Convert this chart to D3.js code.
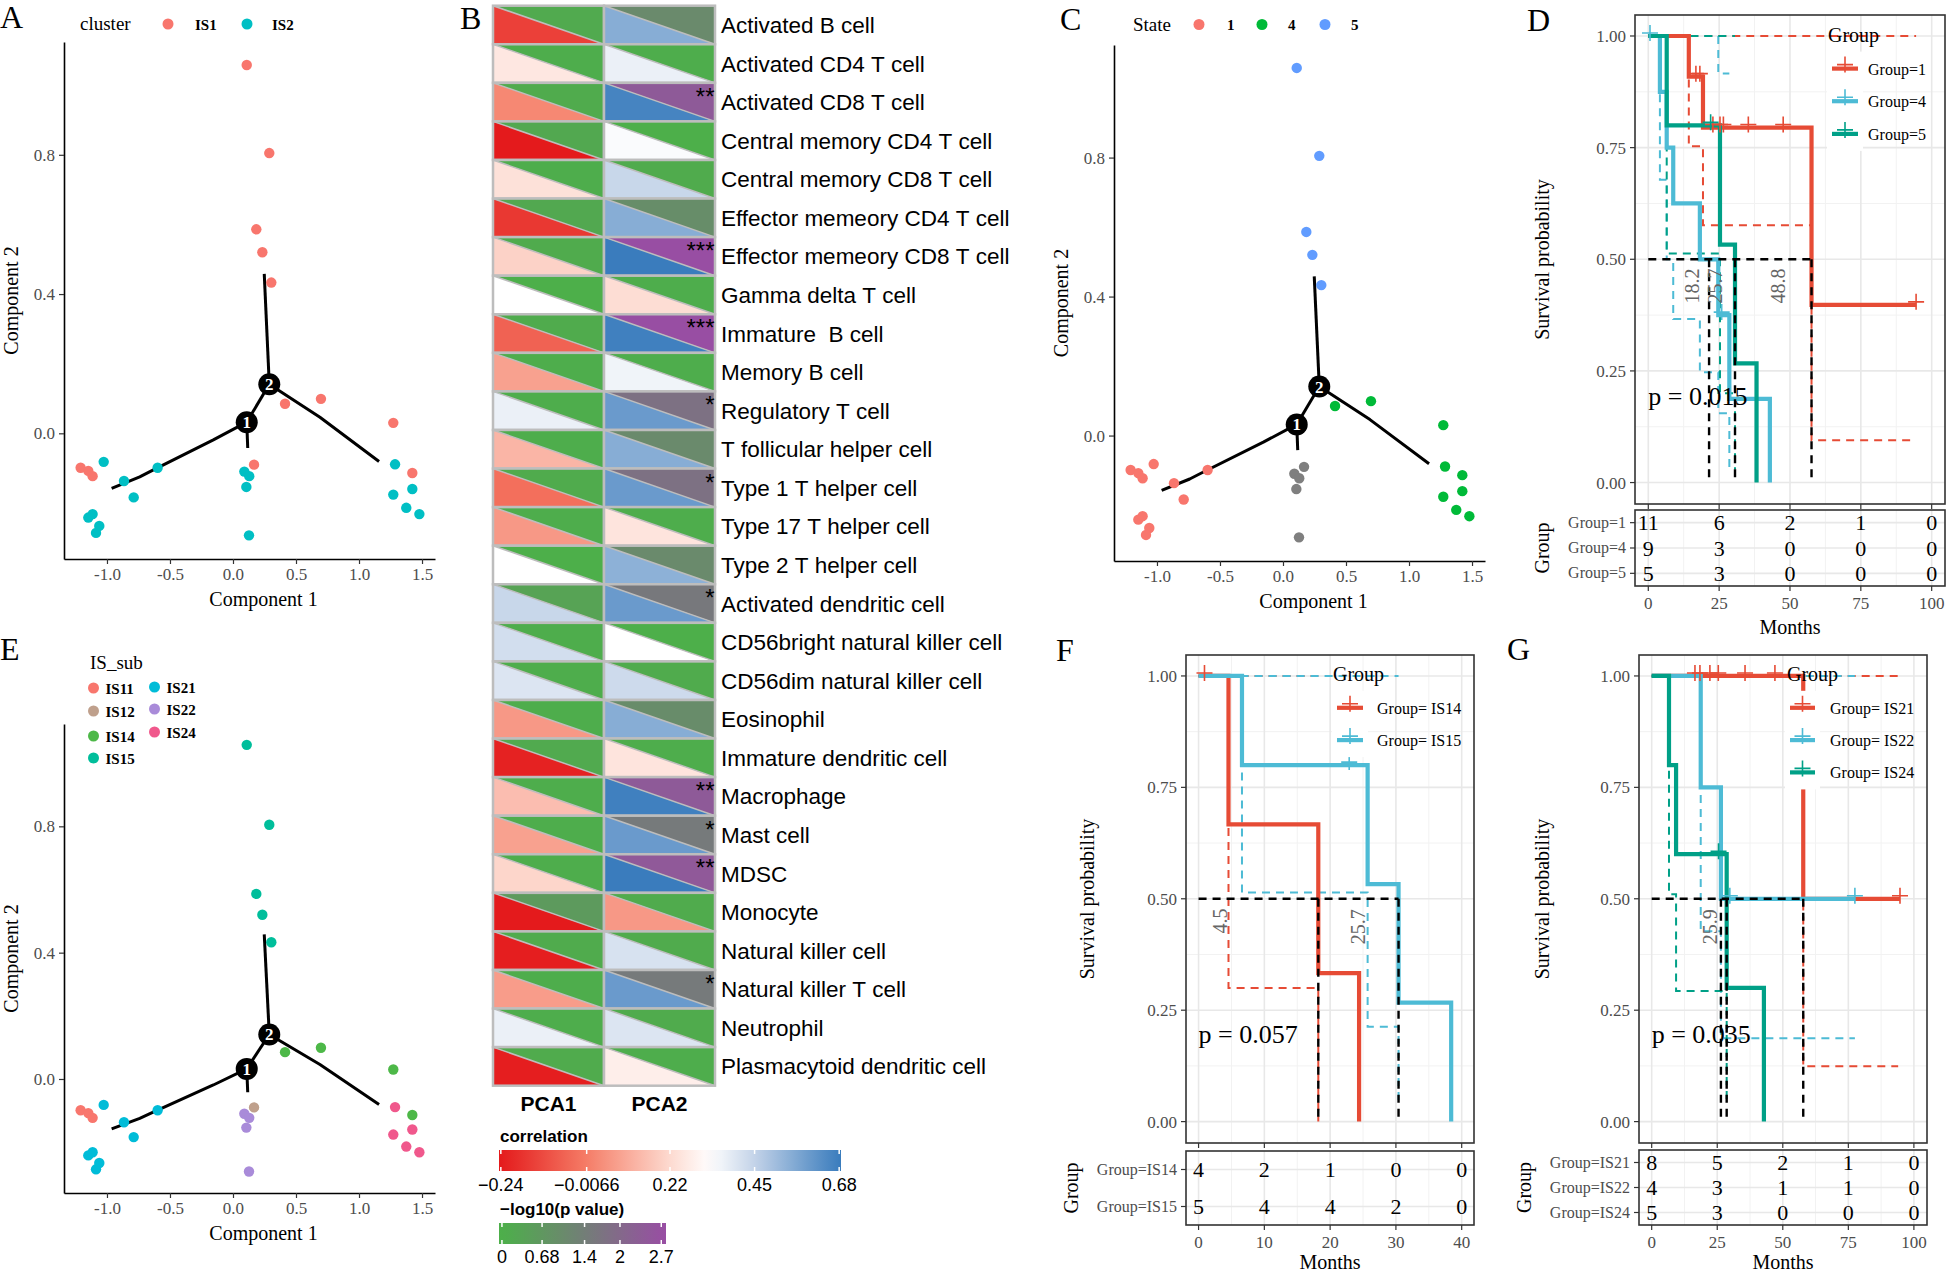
<!DOCTYPE html>
<html><head><meta charset="utf-8">
<script src="https://cdn.jsdelivr.net/npm/d3@7/dist/d3.min.js"></script>
<style>html,body{margin:0;padding:0;background:#fff}svg{display:block}</style>
</head><body>
<svg id="fig" width="1946" height="1273" xmlns="http://www.w3.org/2000/svg"></svg>
<script>
const SERIF = "'Liberation Serif','Times New Roman',Times,serif";
const SANS = "'Liberation Sans',Arial,Helvetica,sans-serif";

// ================= DATA: trajectory cells (panels A, C, E share coordinates) =================
const compX = [0.109,0.288,0.185,0.233,0.304,0.413,0.698,1.272,1.423,0.167,-1.209,-1.148,-1.114,-1.026,-0.865,-0.788,-0.598,-1.148,-1.114,-1.061,-1.087,0.090,0.129,0.106,0.127,1.286,1.423,1.272,1.375,1.479];
const compY = [1.058,0.805,0.586,0.520,0.433,0.085,0.099,0.030,-0.114,-0.090,-0.099,-0.108,-0.123,-0.082,-0.137,-0.184,-0.099,-0.242,-0.232,-0.266,-0.286,-0.110,-0.123,-0.154,-0.293,-0.089,-0.160,-0.176,-0.214,-0.232];
const clusterOf = ["IS1","IS1","IS1","IS1","IS1","IS1","IS1","IS1","IS1","IS1","IS1","IS1","IS1","IS2","IS2","IS2","IS2","IS2","IS2","IS2","IS2","IS2","IS2","IS2","IS2","IS2","IS2","IS2","IS2","IS2"];
const stateOf = ["5","5","5","5","5","4","4","4","4","NA","1","1","1","1","1","1","1","1","1","1","1","NA","NA","NA","NA","4","4","4","4","4"];
const subOf = ["IS15","IS15","IS15","IS15","IS15","IS14","IS14","IS14","IS14","IS12","IS11","IS11","IS11","IS21","IS21","IS21","IS21","IS21","IS21","IS21","IS21","IS22","IS22","IS22","IS22","IS24","IS24","IS24","IS24","IS24"];
const compTicksX = [-1.0,-0.5,0,0.5,1.0,1.5];
const compTicksY = [0,0.4,0.8];
const branchLeft = [[-0.963,-0.158],[-0.74,-0.125],[-0.659,-0.110],[-0.156,-0.019],[0.109,0.032]];
const branchStub = [[0.109,0.032],[0.117,-0.042]];
const branchMid = [[0.109,0.032],[0.288,0.141]];
const branchUp = [[0.288,0.141],[0.248,0.458]];
const branchRight = [[0.288,0.141],[0.690,0.046],[1.159,-0.081]];
const nodeX = [0.109,0.288], nodeY = [0.032,0.141], nodeLab = ["1","2"];
const clusterLevels = ["IS1","IS2"], clusterColors = ["#F8766D","#00BFC4"];
const stateLevels = ["1","4","5"], stateColors = ["#F8766D","#00BA38","#619CFF"];
const subLevels = ["IS11","IS12","IS14","IS15","IS21","IS22","IS24"];
const subColors = ["#F8766D","#BFA08C","#4DB848","#00BE9B","#00BCD8","#A98BD9","#F0588C"];

// ================= DATA: heatmap (panel B) =================
const cellTypes = ["Activated B cell","Activated CD4 T cell","Activated CD8 T cell","Central memory CD4 T cell","Central memory CD8 T cell","Effector memeory CD4 T cell","Effector memeory CD8 T cell","Gamma delta T cell","Immature  B cell","Memory B cell","Regulatory T cell","T follicular helper cell","Type 1 T helper cell","Type 17 T helper cell","Type 2 T helper cell","Activated dendritic cell","CD56bright natural killer cell","CD56dim natural killer cell","Eosinophil","Immature dendritic cell","Macrophage","Mast cell","MDSC","Monocyte","Natural killer cell","Natural killer T cell","Neutrophil","Plasmacytoid dendritic cell"];
const pcs = ["PCA1","PCA2"];
const corrPCA1 = [-0.15,0.26,0.02,-0.24,0.24,-0.17,0.20,0.33,-0.07,0.08,0.37,0.13,-0.04,0.06,0.33,0.44,0.42,0.40,0.06,-0.22,0.15,0.08,0.21,-0.24,-0.23,0.07,0.37,-0.23];
const corrPCA2 = [0.55,0.37,0.66,0.34,0.44,0.55,0.68,0.23,0.67,0.36,0.60,0.55,0.60,0.25,0.54,0.60,0.33,0.43,0.55,0.25,0.67,0.60,0.68,0.06,0.41,0.60,0.40,0.28];
const logpPCA1 = [0.15,0.05,0.10,0.20,0.05,0.20,0.10,0.00,0.10,0.05,0.05,0.05,0.10,0.05,0.00,0.35,0.05,0.05,0.05,0.15,0.05,0.05,0.05,0.60,0.10,0.05,0.05,0.10];
const logpPCA2 = [1.05,0.05,2.40,0.00,0.10,0.95,3.10,0.05,3.10,0.05,1.75,1.05,1.75,0.05,1.05,1.55,0.00,0.10,1.00,0.05,2.40,1.50,2.45,0.10,0.10,1.50,0.10,0.05];
const corrBreaks = [-0.24,-0.0066,0.22,0.45,0.68];
const corrBreakLabels = ["\u22120.24","\u22120.0066","0.22","0.45","0.68"];
const pBreaks = [0,0.68,1.4,2,2.7];
const pBreakLabels = ["0","0.68","1.4","2","2.7"];

// ================= DATA: survival panels =================
const kmYTicks = [0,0.25,0.5,0.75,1];
// D
const dTicks = [0,25,50,75,100];
const dNames = ["Group=1","Group=4","Group=5"];
const dG1T = [0,14.3,19.3,57.6,94.5], dG1S = [1,0.909,0.795,0.398,0.398];
const dG4T = [0,4.1,6.5,8.8,18.2,24.7,28.6,42.9], dG4S = [1,0.875,0.75,0.625,0.5,0.375,0.1875,0];
const dG5T = [0,6.5,25.3,30.6,38.2], dG5S = [1,0.8,0.533,0.267,0];
const dG1CT = [16.8,18.2,22.8,25.3,26.5,35.3,47.6,94.5], dG1CS = [0.909,0.909,0.795,0.795,0.795,0.795,0.795,0.398];
const dG4CT = [0.6,25.9], dG4CS = [1,0.375];
const dG5CT = [22.0], dG5CS = [0.8];
const dG1LoT = [0,14.3,19.3,57.6,94.5], dG1LoS = [1,0.753,0.576,0.095,0.095];
const dG1UpT = [0,94.5], dG1UpS = [1,1];
const dG4LoT = [0,4.1,6.5,8.8,18.2,24.7,28.6], dG4LoS = [1,0.678,0.5,0.366,0.247,0.155,0.03];
const dG4UpT = [0,24.7,28.6], dG4UpS = [1,0.916,0.916];
const dG5LoT = [0,6.5,25.3,30.6], dG5LoS = [1,0.513,0.2,0.03];
const dG5UpT = [0,30.6], dG5UpS = [1,1];
const dMedian = [21.45,30.6,57.6];
const dMedText = ["18.2","25.7","48.8"], dMedTextT = [15.4,23.5,45.9], dMedTextS = [0.44,0.44,0.44];
const dRisk = [[11,6,2,1,0],[9,3,0,0,0],[5,3,0,0,0]];
const dP = "p = 0.015";
// F
const fTicks = [0,10,20,30,40];
const fNames = ["Group=IS14","Group=IS15"];
const fLegend = ["Group= IS14","Group= IS15"];
const f14T = [0,4.55,18.2,24.4], f14S = [1,0.667,0.333,0];
const f15T = [0,6.6,25.7,30.4,38.4], f15S = [1,0.8,0.533,0.267,0];
const f14CT = [0.9], f14CS = [1];
const f15CT = [22.9], f15CS = [0.8];
const f14LoT = [0,4.55,18.2], f14LoS = [1,0.30,0.0];
const f14UpT = [0,18.2], f14UpS = [1,1];
const f15LoT = [0,6.6,25.7,30.4], f15LoS = [1,0.514,0.213,0.04];
const f15UpT = [0,30.4], f15UpS = [1,1];
const fMedian = [18.2,30.4];
const fMedText = ["4.5","25.7"], fMedTextT = [3.3,24.3], fMedTextS = [0.45,0.437];
const fRisk = [[4,2,1,0,0],[5,4,4,2,0]];
const fP = "p = 0.057";
// G
const gTicks = [0,25,50,75,100];
const gNames = ["Group=IS21","Group=IS22","Group=IS24"];
const gLegend = ["Group= IS21","Group= IS22","Group= IS24"];
const g21T = [0,57.8,94.7], g21S = [1,0.5,0.5];
const g22T = [0,18.7,26.4,77.5], g22S = [1,0.75,0.5,0.5];
const g24T = [0,6.6,9.3,28.6,42.8], g24S = [1,0.8,0.6,0.3,0];
const g21CT = [16.5,18.4,22.2,25.4,35.6,47.0,94.7], g21CS = [1,1,1,1,1,1,0.5];
const g22CT = [29.8,77.5], g22CS = [0.5,0.5];
const g24CT = [25.5], g24CS = [0.6];
const g21LoT = [0,57.8,94.0], g21LoS = [1,0.124,0.124];
const g21UpT = [0,94.0], g21UpS = [1,1];
const g22LoT = [0,18.7,26.4,77.5], g22LoS = [1,0.427,0.187,0.187];
const g22UpT = [0,77.5], g22UpS = [1,1];
const g24LoT = [0,6.6,9.3,28.6], g24LoS = [1,0.51,0.293,0.04];
const g24UpT = [0,28.6], g24UpS = [1,1];
const gMedian = [26.4,28.6,57.8];
const gMedText = ["25.9"], gMedTextT = [22.2], gMedTextS = [0.437];
const gRisk = [[8,5,2,1,0],[4,3,1,1,0],[5,3,0,0,0]];
const gP = "p = 0.035";
const npg = ["#E64B35","#4DBBD5","#00A087"];

// ================= DRAWING =================
const svg = d3.select("#fig");
svg.append("rect").attr("width",1946).attr("height",1273).attr("fill","#fff");
const zip = (a,b) => a.map((v,i)=>[v,b[i]]);

function txt(g, s, x, y, o) {
  o = o || {};
  const t = g.append("text").attr("x",x).attr("y",y).text(s)
    .attr("font-family", o.family || SERIF).attr("font-size", o.size || 17)
    .attr("fill", o.fill || "#000");
  if (o.anchor) t.attr("text-anchor", o.anchor);
  if (o.weight) t.attr("font-weight", o.weight);
  if (o.rotate) t.attr("transform", `rotate(${o.rotate},${x},${y})`);
  return t;
}

// ---------- panel letters ----------
[["A",0,28],["B",460,29],["C",1060,30],["D",1527,31],["E",0,660],["F",1056,661],["G",1507,660]].forEach(d=>{
  txt(svg, d[0], d[1], d[2], {size:32});
});

// ---------- trajectory scatter ----------
function scatter(P, labels, levels, colors) {
  const x = d3.scaleLinear().domain([-1.341,1.603]).range([P.l,P.r]);
  const y = d3.scaleLinear().domain([-0.361,1.124]).range([P.b,P.t]);
  const g = svg.append("g");
  const line = d3.line().x(d=>x(d[0])).y(d=>y(d[1]));
  [branchLeft,branchStub,branchMid,branchUp,branchRight].forEach(b=>{
    g.append("path").attr("d",line(b)).attr("fill","none").attr("stroke","#000")
     .attr("stroke-width",3).attr("stroke-linejoin","round");
  });
  const cmap = d3.scaleOrdinal(levels, colors).unknown("#7F7F7F");
  g.selectAll("circle.pt").data(d3.range(compX.length)).join("circle").attr("class","pt")
    .attr("cx",i=>x(compX[i])).attr("cy",i=>y(compY[i])).attr("r",5.2)
    .attr("fill",i=>cmap(labels[i]));
  nodeX.forEach((nx,i)=>{
    g.append("circle").attr("cx",x(nx)).attr("cy",y(nodeY[i])).attr("r",11).attr("fill","#000");
    txt(g, nodeLab[i], x(nx), y(nodeY[i])+6, {size:17, fill:"#fff", anchor:"middle", weight:"bold"});
  });
  const gx = g.append("g").attr("transform",`translate(0,${P.b})`)
    .call(d3.axisBottom(x).tickValues(compTicksX).tickFormat(d=>d.toFixed(1)).tickSize(5).tickSizeOuter(0));
  const gy = g.append("g").attr("transform",`translate(${P.l},0)`)
    .call(d3.axisLeft(y).tickValues(compTicksY).tickFormat(d=>d.toFixed(1)).tickSize(5).tickSizeOuter(0));
  [gx,gy].forEach(a=>{
    a.select(".domain").attr("stroke","#000").attr("stroke-width",1.6);
    a.selectAll(".tick line").attr("stroke","#333").attr("stroke-width",1.2);
    a.selectAll(".tick text").attr("font-family",SERIF).attr("font-size",17).attr("fill","#4D4D4D");
  });
  gx.selectAll(".tick text").attr("y",9);
  gy.selectAll(".tick text").attr("x",-9);
  txt(g, "Component 1", (P.l+P.r)/2 + 14, P.b + 47, {size:20, anchor:"middle"});
  txt(g, "Component 2", P.l - 46, (P.t+P.b)/2, {size:20, anchor:"middle", rotate:-90});
  return {x,y,g,cmap};
}

scatter({l:64,r:435,t:42,b:559}, clusterOf, clusterLevels, clusterColors);
txt(svg,"cluster",80,30,{size:19});
clusterLevels.forEach((lv,i)=>{
  svg.append("circle").attr("cx",[168,247][i]).attr("cy",24).attr("r",5.5).attr("fill",clusterColors[i]);
  txt(svg, lv, [195,272][i], 29.5, {size:15, weight:"bold"});
});

scatter({l:1114,r:1485,t:45,b:561}, stateOf, stateLevels, stateColors);
txt(svg,"State",1133,31,{size:19});
stateLevels.forEach((lv,i)=>{
  svg.append("circle").attr("cx",[1199,1262,1325][i]).attr("cy",24.5).attr("r",5.5).attr("fill",stateColors[i]);
  txt(svg, lv, [1227,1288,1351][i], 30, {size:15, weight:"bold"});
});

scatter({l:64,r:435,t:724,b:1193}, subOf, subLevels, subColors);
txt(svg,"IS_sub",90,669,{size:19});
subLevels.forEach((lv,i)=>{
  const col = i<4 ? 0 : 1, row = i<4 ? i : i-4;
  const cx = col ? 154.5 : 93.5, cy = (col ? [687,709,732] : [688,711,736,758])[row];
  svg.append("circle").attr("cx",cx).attr("cy",cy).attr("r",5.5).attr("fill",subColors[i]);
  txt(svg, lv, cx+12, cy+5.5, {size:15, weight:"bold"});
});

// ---------- heatmap B ----------
(function(){
  const g = svg.append("g");
  const colX = d3.scaleBand().domain(pcs).range([493,715]);
  const rowY = d3.scaleBand().domain(cellTypes).range([5.7,1085.7]);
  const corrColor = d3.scaleLinear().domain([-0.24,-0.0066,0.22,0.33,0.45,0.68])
    .range(["#E41A1C","#F57D67","#FDDAD0","#FFFFFF","#C3D3E8","#3A7CBD"]).clamp(true);
  const pColor = d3.scaleLinear().domain([0,2.75]).range(["#4DAF4A","#984EA3"]).clamp(true);
  const corr = [corrPCA1, corrPCA2], logp = [logpPCA1, logpPCA2];
  const w = colX.bandwidth(), h = rowY.bandwidth();
  cellTypes.forEach((ct,i)=>{
    pcs.forEach((pc,j)=>{
      const x0 = colX(pc), y0 = rowY(ct);
      g.append("path").attr("d",`M${x0},${y0}L${x0},${y0+h}L${x0+w},${y0+h}Z`).attr("fill",corrColor(corr[j][i]));
      g.append("path").attr("d",`M${x0},${y0}L${x0+w},${y0}L${x0+w},${y0+h}Z`).attr("fill",pColor(logp[j][i]));
      g.append("line").attr("x1",x0).attr("y1",y0).attr("x2",x0+w).attr("y2",y0+h).attr("stroke","#BDBDBD").attr("stroke-width",1.5);
      g.append("rect").attr("x",x0).attr("y",y0).attr("width",w).attr("height",h).attr("fill","none").attr("stroke","#BDBDBD").attr("stroke-width",2.5);
      const lp = logp[j][i];
      const star = lp>=3 ? "***" : lp>=2 ? "**" : lp>=1.301 ? "*" : "";
      if (star) txt(g, star, x0+w-0.5, y0+22, {family:SANS, size:24, anchor:"end"});
    });
    txt(g, ct.replace(/ /g,"\u00a0"), 721, rowY(ct)+h/2+8, {family:SANS, size:22.5});
  });
  pcs.forEach(pc=> txt(g, pc, colX(pc)+w/2, 1111, {family:SANS, size:21, weight:"bold", anchor:"middle"}));
  const defs = svg.append("defs");
  function bar(id, scale, colorFn, y0, y1, x0, x1, breaks, labels, title, titleY, labY) {
    const grad = defs.append("linearGradient").attr("id",id).attr("x1","0%").attr("x2","100%");
    const dom = scale.domain();
    d3.range(0,1.0001,0.05).forEach(t=>{
      grad.append("stop").attr("offset",(t*100)+"%").attr("stop-color",colorFn(dom[0]+t*(dom[1]-dom[0])));
    });
    g.append("rect").attr("x",x0).attr("y",y0).attr("width",x1-x0).attr("height",y1-y0).attr("fill",`url(#${id})`);
    breaks.forEach((b,k)=>{
      const bx = scale(b);
      g.append("line").attr("x1",bx).attr("x2",bx).attr("y1",y0).attr("y2",y0+4).attr("stroke","#fff").attr("stroke-width",1.5);
      g.append("line").attr("x1",bx).attr("x2",bx).attr("y1",y1-4).attr("y2",y1).attr("stroke","#fff").attr("stroke-width",1.5);
      txt(g, labels[k], bx, labY, {family:SANS, size:18, anchor:"middle"});
    });
    txt(g, title, 500, titleY, {family:SANS, size:17, weight:"bold"});
  }
  const cScale = d3.scaleLinear().domain([-0.245,0.685]).range([499,841]);
  bar("gcorr", cScale, corrColor, 1150, 1171, 499, 841, corrBreaks, corrBreakLabels, "correlation", 1142, 1191);
  const pScale = d3.scaleLinear().domain([-0.05,2.78]).range([499,666]);
  bar("gp", pScale, pColor, 1223, 1244, 499, 666, pBreaks, pBreakLabels, "\u2212log10(p value)", 1215, 1263);
})();

// ---------- survival panels ----------
function km(P) {
  const x = d3.scaleLinear().domain(P.xDom).range([P.l,P.r]);
  const y = d3.scaleLinear().domain([-0.048,1.047]).range([P.b,P.t]);
  const g = svg.append("g");
  g.append("rect").attr("x",P.l).attr("y",P.t).attr("width",P.r-P.l).attr("height",P.b-P.t).attr("fill","#fff");
  const minorX = P.ticks.slice(0,-1).map((v,i)=>(v+P.ticks[i+1])/2);
  const minorY = [0.125,0.375,0.625,0.875];
  minorX.forEach(v=>g.append("line").attr("x1",x(v)).attr("x2",x(v)).attr("y1",P.t).attr("y2",P.b).attr("stroke","#F2F2F2").attr("stroke-width",1));
  minorY.forEach(v=>g.append("line").attr("x1",P.l).attr("x2",P.r).attr("y1",y(v)).attr("y2",y(v)).attr("stroke","#F2F2F2").attr("stroke-width",1));
  P.ticks.forEach(v=>g.append("line").attr("x1",x(v)).attr("x2",x(v)).attr("y1",P.t).attr("y2",P.b).attr("stroke","#E8E8E8").attr("stroke-width",1.6));
  kmYTicks.forEach(v=>g.append("line").attr("x1",P.l).attr("x2",P.r).attr("y1",y(v)).attr("y2",y(v)).attr("stroke","#E8E8E8").attr("stroke-width",1.6));
  const step = d3.line().curve(d3.curveStepAfter).x(d=>x(d[0])).y(d=>y(d[1]));
  P.groups.forEach(gr=>{
    [[gr.loT,gr.loS],[gr.upT,gr.upS]].forEach(ci=>{
      g.append("path").attr("d",step(zip(ci[0],ci[1]))).attr("fill","none").attr("stroke",gr.color)
        .attr("stroke-width",2).attr("stroke-dasharray","8,6");
    });
  });
  P.groups.forEach(gr=>{
    g.append("path").attr("d",step(zip(gr.t,gr.s))).attr("fill","none").attr("stroke",gr.color).attr("stroke-width",4.2);
  });
  const mMax = d3.max(P.median);
  g.append("line").attr("x1",x(0)).attr("x2",x(mMax)).attr("y1",y(0.5)).attr("y2",y(0.5))
    .attr("stroke","#000").attr("stroke-width",2.4).attr("stroke-dasharray","8,6");
  P.median.forEach(m=>g.append("line").attr("x1",x(m)).attr("x2",x(m)).attr("y1",y(0.5)).attr("y2",y(0))
    .attr("stroke","#000").attr("stroke-width",2.4).attr("stroke-dasharray","8,6"));
  P.groups.forEach(gr=>{
    gr.cT.forEach((t,i)=>{
      g.append("path").attr("d","M-8,0H8M0,-8V8").attr("transform",`translate(${x(t)},${y(gr.cS[i])-3})`)
        .attr("stroke",gr.color).attr("stroke-width",1.6).attr("fill","none");
    });
  });
  P.medText.forEach((s,i)=>{
    const tx = x(P.medTextT[i]), ty = y(P.medTextS[i]);
    txt(g, s, tx, ty, {size:20, fill:"#666", anchor:"middle", rotate:-90}).attr("dy","0.35em");
  });
  txt(g, P.pText, x(0), P.pY, {size:26});
  g.append("rect").attr("x",P.l).attr("y",P.t).attr("width",P.r-P.l).attr("height",P.b-P.t).attr("fill","none").attr("stroke","#333").attr("stroke-width",1.6);
  kmYTicks.forEach(v=>{
    g.append("line").attr("x1",P.l-5).attr("x2",P.l).attr("y1",y(v)).attr("y2",y(v)).attr("stroke","#333").attr("stroke-width",1.2);
    txt(g, v.toFixed(2), P.l-9, y(v)+6, {size:17, fill:"#4D4D4D", anchor:"end"});
  });
  P.ticks.forEach(v=>g.append("line").attr("x1",x(v)).attr("x2",x(v)).attr("y1",P.b).attr("y2",P.b+5).attr("stroke","#333").attr("stroke-width",1.2));
  txt(g, "Survival probability", P.yTitleX, (P.t+P.b)/2, {size:20, anchor:"middle", rotate:-90});
  const L = P.legend;
  g.append("rect").attr("x",L.kx0-5).attr("y",L.ys[0]-17).attr("width",L.kx1-L.kx0+10).attr("height",L.ys[L.ys.length-1]-L.ys[0]+34).attr("fill","#fff");
  txt(g, "Group", L.titleX, L.titleY, {size:20});
  P.groups.forEach((gr,i)=>{
    const ky = L.ys[i];
    g.append("line").attr("x1",L.kx0).attr("x2",L.kx1).attr("y1",ky).attr("y2",ky).attr("stroke",gr.color).attr("stroke-width",4.2);
    g.append("path").attr("d","M-8,0H8M0,-8V8").attr("transform",`translate(${(L.kx0+L.kx1)/2},${ky-4})`).attr("stroke",gr.color).attr("stroke-width",1.6);
    txt(g, L.labels[i], L.tx, ky+6, {size:16});
  });
  const R = P.risk;
  const ry = d3.scaleBand().domain(d3.range(R.values.length)).range([R.t,R.b]);
  g.append("rect").attr("x",P.l).attr("y",R.t).attr("width",P.r-P.l).attr("height",R.b-R.t).attr("fill","#fff");
  minorX.forEach(v=>g.append("line").attr("x1",x(v)).attr("x2",x(v)).attr("y1",R.t).attr("y2",R.b).attr("stroke","#F2F2F2").attr("stroke-width",1));
  P.ticks.forEach(v=>g.append("line").attr("x1",x(v)).attr("x2",x(v)).attr("y1",R.t).attr("y2",R.b).attr("stroke","#E8E8E8").attr("stroke-width",1.6));
  R.values.forEach((row,i)=>{
    const cy = ry(i)+ry.bandwidth()/2;
    g.append("line").attr("x1",P.l).attr("x2",P.r).attr("y1",cy).attr("y2",cy).attr("stroke","#E8E8E8").attr("stroke-width",1.6);
    g.append("line").attr("x1",P.l-5).attr("x2",P.l).attr("y1",cy).attr("y2",cy).attr("stroke","#333").attr("stroke-width",1.2);
    txt(g, R.names[i], P.l-9, cy+5, {size:16, fill:"#4D4D4D", anchor:"end"});
    row.forEach((n,k)=> txt(g, String(n), x(P.ticks[k]), cy+7.5, {size:22, anchor:"middle"}));
  });
  g.append("rect").attr("x",P.l).attr("y",R.t).attr("width",P.r-P.l).attr("height",R.b-R.t).attr("fill","none").attr("stroke","#333").attr("stroke-width",1.6);
  P.ticks.forEach(v=>{
    g.append("line").attr("x1",x(v)).attr("x2",x(v)).attr("y1",R.b).attr("y2",R.b+5).attr("stroke","#333").attr("stroke-width",1.2);
    txt(g, String(v), x(v), R.b+23, {size:17, fill:"#4D4D4D", anchor:"middle"});
  });
  txt(g, "Months", (P.l+P.r)/2, R.monthsY, {size:20, anchor:"middle"});
  txt(g, "Group", R.gx, (R.t+R.b)/2, {size:20, anchor:"middle", rotate:-90});
}

km({
  l:1635, r:1945, t:15, b:504, xDom:[-4.69,104.7], ticks:dTicks,
  groups:[
    {color:npg[0], t:dG1T, s:dG1S, cT:dG1CT, cS:dG1CS, loT:dG1LoT, loS:dG1LoS, upT:dG1UpT, upS:dG1UpS},
    {color:npg[1], t:dG4T, s:dG4S, cT:dG4CT, cS:dG4CS, loT:dG4LoT, loS:dG4LoS, upT:dG4UpT, upS:dG4UpS},
    {color:npg[2], t:dG5T, s:dG5S, cT:dG5CT, cS:dG5CS, loT:dG5LoT, loS:dG5LoS, upT:dG5UpT, upS:dG5UpS}],
  median:dMedian, medText:dMedText, medTextT:dMedTextT, medTextS:dMedTextS,
  pText:dP, pY:405, yTitleX:1549,
  legend:{titleX:1828, titleY:42, kx0:1832, kx1:1858, tx:1868, ys:[68.6,101.2,133.9], labels:dNames},
  risk:{t:510, b:586, values:dRisk, names:dNames, monthsY:634, gx:1549}
});
km({
  l:1186, r:1474, t:655, b:1143, xDom:[-1.91,41.87], ticks:fTicks,
  groups:[
    {color:npg[0], t:f14T, s:f14S, cT:f14CT, cS:f14CS, loT:f14LoT, loS:f14LoS, upT:f14UpT, upS:f14UpS},
    {color:npg[1], t:f15T, s:f15S, cT:f15CT, cS:f15CS, loT:f15LoT, loS:f15LoS, upT:f15UpT, upS:f15UpS}],
  median:fMedian, medText:fMedText, medTextT:fMedTextT, medTextS:fMedTextS,
  pText:fP, pY:1043, yTitleX:1094,
  legend:{titleX:1333, titleY:681, kx0:1337, kx1:1363, tx:1377, ys:[707.8,740.1], labels:fLegend},
  risk:{t:1151, b:1225, values:fRisk, names:fNames, monthsY:1269, gx:1078}
});
km({
  l:1639, r:1927, t:655, b:1143, xDom:[-4.84,105.0], ticks:gTicks,
  groups:[
    {color:npg[0], t:g21T, s:g21S, cT:g21CT, cS:g21CS, loT:g21LoT, loS:g21LoS, upT:g21UpT, upS:g21UpS},
    {color:npg[1], t:g22T, s:g22S, cT:g22CT, cS:g22CS, loT:g22LoT, loS:g22LoS, upT:g22UpT, upS:g22UpS},
    {color:npg[2], t:g24T, s:g24S, cT:g24CT, cS:g24CS, loT:g24LoT, loS:g24LoS, upT:g24UpT, upS:g24UpS}],
  median:gMedian, medText:gMedText, medTextT:gMedTextT, medTextS:gMedTextS,
  pText:gP, pY:1043, yTitleX:1549,
  legend:{titleX:1787, titleY:681, kx0:1790, kx1:1815, tx:1830, ys:[707.8,740.1,772.4], labels:gLegend},
  risk:{t:1150, b:1225, values:gRisk, names:gNames, monthsY:1269, gx:1531}
});
</script>
</body></html>
